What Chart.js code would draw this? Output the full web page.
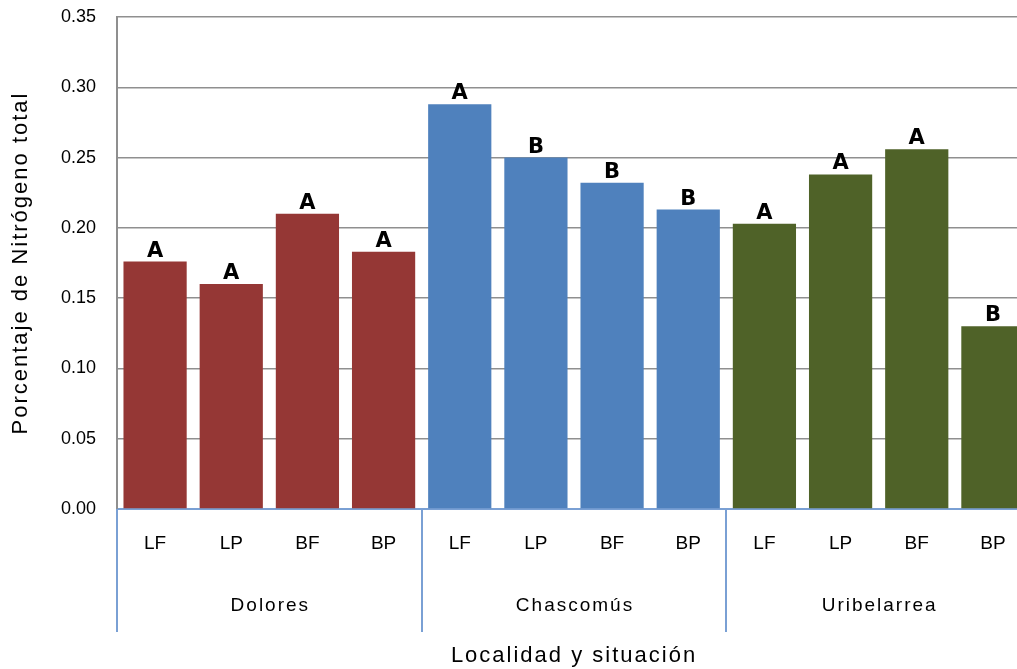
<!DOCTYPE html>
<html>
<head>
<meta charset="utf-8">
<script src="https://cdn.jsdelivr.net/npm/chart.js@4/dist/chart.umd.min.js"></script>
<style>
  html, body { margin: 0; padding: 0; overflow: hidden; background: #fff; }
  #wrap { position: absolute; left: 0; top: 0; width: 1035px; height: 669px; }
</style>
</head>
<body>
<div id="wrap"><canvas id="grafico" width="1035" height="669"></canvas></div>
<script>
// datos
const localidades = ['Dolores', 'Chascomús', 'Uribelarrea'];
const situaciones = ['LF', 'LP', 'BF', 'BP'];
const dolores = [0.176, 0.160, 0.210, 0.183];
const chascomus = [0.288, 0.250, 0.232, 0.213];
const uribelarrea = [0.203, 0.238, 0.256, 0.130];
const letras = ['A', 'A', 'A', 'A', 'A', 'B', 'B', 'B', 'A', 'A', 'A', 'B'];
const coloresLocalidad = ['#953735', '#4f81bd', '#4f6228'];
const yTicks = [0, 0.05, 0.10, 0.15, 0.20, 0.25, 0.30, 0.35];
const tituloX = 'Localidad y situación';
const tituloY = 'Porcentaje de Nitrógeno total';

const etiquetas = localidades.flatMap(() => situaciones);
const valores = [...dolores, ...chascomus, ...uribelarrea];
const colores = localidades.flatMap((l, i) => situaciones.map(() => coloresLocalidad[i]));

const fuente = "'Liberation Sans', Arial, sans-serif";

// separadores, nombres de localidad, titulos y letras sobre las barras
const gruposPlugin = {
    id: 'grupos',
    afterDraw(chart) {
        const ctx = chart.ctx;
        const x = chart.scales.x;
        const area = chart.chartArea;
        const catW = x.getPixelForValue(1) - x.getPixelForValue(0);

        ctx.save();
        ctx.strokeStyle = '#7aa0d4';
        ctx.lineWidth = 2;
        for (let g = 0; g <= localidades.length; g++) {
            const px = Math.round(x.getPixelForValue(g * 4) - catW / 2);
            ctx.beginPath();
            ctx.moveTo(px, area.bottom);
            ctx.lineTo(px, 632);
            ctx.stroke();
        }

        ctx.fillStyle = '#000';
        ctx.textAlign = 'center';
        ctx.textBaseline = 'middle';
        ctx.font = '19px ' + fuente;
        ctx.letterSpacing = '2px';
        localidades.forEach((loc, g) => {
            const cx = (x.getPixelForValue(g * 4) + x.getPixelForValue(g * 4 + 3)) / 2;
            ctx.fillText(loc, cx + 1, 606);
        });

        ctx.font = '22px ' + fuente;
        ctx.fillText(tituloX, (area.left + area.right) / 2, 656);
        ctx.save();
        ctx.translate(21, 263);
        ctx.rotate(-Math.PI / 2);
        ctx.fillText(tituloY, 0, 0);
        ctx.restore();

        ctx.letterSpacing = '0px';
        const meta = chart.getDatasetMeta(0);
        ctx.font = "bold 21px 'DejaVu Sans', Verdana, sans-serif";
        ctx.textBaseline = 'bottom';
        meta.data.forEach((bar, i) => {
            ctx.fillText(letras[i], bar.x, bar.y);
        });
        ctx.restore();
    }
};

new Chart(document.getElementById('grafico').getContext('2d'), {
    type: 'bar',
    data: {
        labels: etiquetas,
        datasets: [{
            data: valores,
            backgroundColor: colores,
            barPercentage: 0.83,
            categoryPercentage: 1.0
        }]
    },
    options: {
        responsive: false,
        animation: false,
        devicePixelRatio: 1,
        layout: { padding: { top: 17, right: 4, left: 0, bottom: 0 } },
        plugins: {
            legend: { display: false },
            tooltip: { enabled: false }
        },
        scales: {
            x: {
                grid: { display: false, drawTicks: false },
                border: { color: '#7aa0d4', width: 2 },
                ticks: { color: '#000', font: { family: fuente, size: 19 }, padding: 23, maxRotation: 0, autoSkip: false },
                afterFit(scale) { scale.height = 160; }
            },
            y: {
                min: 0,
                max: 0.35,
                afterBuildTicks(scale) { scale.ticks = yTicks.map(v => ({ value: v })); },
                grid: { color: '#8f8f8f', lineWidth: 1.5, drawTicks: false },
                border: { color: '#8f8f8f', width: 2 },
                ticks: {
                    color: '#000',
                    font: { family: fuente, size: 18 },
                    padding: 21,
                    callback: v => Number(v).toFixed(2)
                },
                afterFit(scale) {
                    scale.width = 117;
                    scale.paddingTop = 0;
                    scale.paddingBottom = 0;
                }
            }
        }
    },
    plugins: [gruposPlugin]
});
</script>
</body>
</html>
